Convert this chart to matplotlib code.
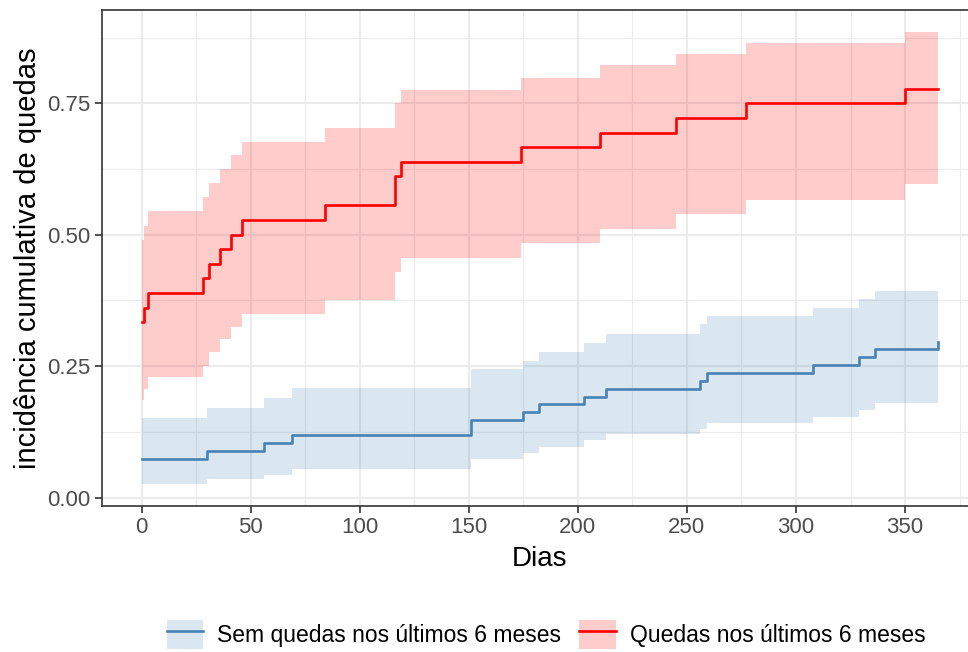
import matplotlib.pyplot as plt
from matplotlib.lines import Line2D
from matplotlib.patches import Patch
from matplotlib.ticker import MultipleLocator, FormatStrFormatter

plt.rcParams["font.family"] = ["Liberation Sans", "DejaVu Sans"]

FOLLOW_UP = 365

# Sem quedas nos últimos 6 meses
sem_days = [0, 30, 56, 69, 151, 175, 182, 203, 213, 256, 259, 308, 329, 336, 365]
sem_est = [0.073, 0.088, 0.103, 0.118, 0.147, 0.162, 0.177, 0.192, 0.207,
           0.222, 0.237, 0.252, 0.267, 0.282, 0.296]
sem_upper = [0.152, 0.170, 0.189, 0.208, 0.244, 0.260, 0.277, 0.294, 0.312,
             0.330, 0.345, 0.361, 0.378, 0.393, 0.393]
sem_lower = [0.026, 0.035, 0.043, 0.054, 0.074, 0.085, 0.097, 0.109, 0.120,
             0.131, 0.142, 0.154, 0.166, 0.179, 0.179]

# Quedas nos últimos 6 meses
com_days = [0, 1, 3, 28, 31, 36, 41, 46, 84, 116, 119, 174, 210, 245, 277, 350]
com_est = [0.333, 0.361, 0.389, 0.417, 0.444, 0.472, 0.500, 0.528, 0.556,
           0.611, 0.639, 0.667, 0.694, 0.722, 0.750, 0.778]
com_upper = [0.490, 0.517, 0.545, 0.572, 0.599, 0.625, 0.652, 0.677, 0.703,
             0.751, 0.775, 0.799, 0.822, 0.844, 0.865, 0.886]
com_lower = [0.185, 0.206, 0.229, 0.250, 0.276, 0.301, 0.325, 0.350, 0.376,
             0.429, 0.455, 0.484, 0.510, 0.539, 0.567, 0.597]

labels = ["Sem quedas nos últimos 6 meses", "Quedas nos últimos 6 meses"]
LINE_COLORS = ["#4682B4", "#FF0000"]
FILL_COLORS = ["#DAE6F0", "#FFCCCC"]
GRID_COLOR = "#EBEBEB"
BORDER_COLOR = "#333333"


def extend(days, *series):
    # carry the last value to the end of follow-up
    if days[-1] < FOLLOW_UP:
        return [days + [FOLLOW_UP]] + [s + [s[-1]] for s in series]
    return [days] + list(series)


fig = plt.figure(figsize=(9.68, 6.52), dpi=100)
ax = fig.add_axes([0.1051, 0.2239, 0.9048, 0.7612])

groups = [
    (sem_days, sem_est, sem_upper, sem_lower),
    (com_days, com_est, com_upper, com_lower),
]
for (d, e, u, l), lc, fc in zip(groups, LINE_COLORS, FILL_COLORS):
    d, e, u, l = extend(d, e, u, l)
    ax.fill_between(d, l, u, step="post", color=lc, alpha=0.2, lw=0, zorder=2)
    ax.step(d, e, where="post", color=lc, lw=1.9, zorder=3)

ax.set_xlim(-18.25, 383.25)
ax.set_ylim(-0.0162, 0.9281)

ax.xaxis.set_major_locator(MultipleLocator(50))
ax.xaxis.set_minor_locator(MultipleLocator(25))
ax.yaxis.set_major_locator(MultipleLocator(0.25))
ax.yaxis.set_minor_locator(MultipleLocator(0.125))
ax.yaxis.set_major_formatter(FormatStrFormatter("%.2f"))

ax.set_axisbelow(True)
ax.grid(True, which="major", color=GRID_COLOR, lw=1.5)
ax.grid(True, which="minor", color=GRID_COLOR, lw=0.8)

for side in ["top", "left", "bottom", "right"]:
    ax.spines[side].set_color(BORDER_COLOR)
    ax.spines[side].set_linewidth(1.2)

ax.tick_params(which="major", length=5, width=1.2, color=BORDER_COLOR,
               labelcolor="#4D4D4D", labelsize=16, pad=3)
ax.tick_params(which="minor", length=0)

ax.set_xlabel("Dias", fontsize=20, color="black", labelpad=6)
ax.set_ylabel("incidência cumulativa de quedas", fontsize=21, color="black",
              labelpad=4)

handles = [
    (Patch(facecolor=fc, edgecolor="none"), Line2D([], [], color=lc, lw=1.9))
    for lc, fc in zip(LINE_COLORS, FILL_COLORS)
]
fig.legend(handles, labels, loc="center", bbox_to_anchor=(0.564, 0.027),
           ncol=2, frameon=False, fontsize=16.5, handlelength=1.6,
           handleheight=1.6, handletextpad=0.6, columnspacing=0.8)

fig.savefig("out.png", dpi=100)
